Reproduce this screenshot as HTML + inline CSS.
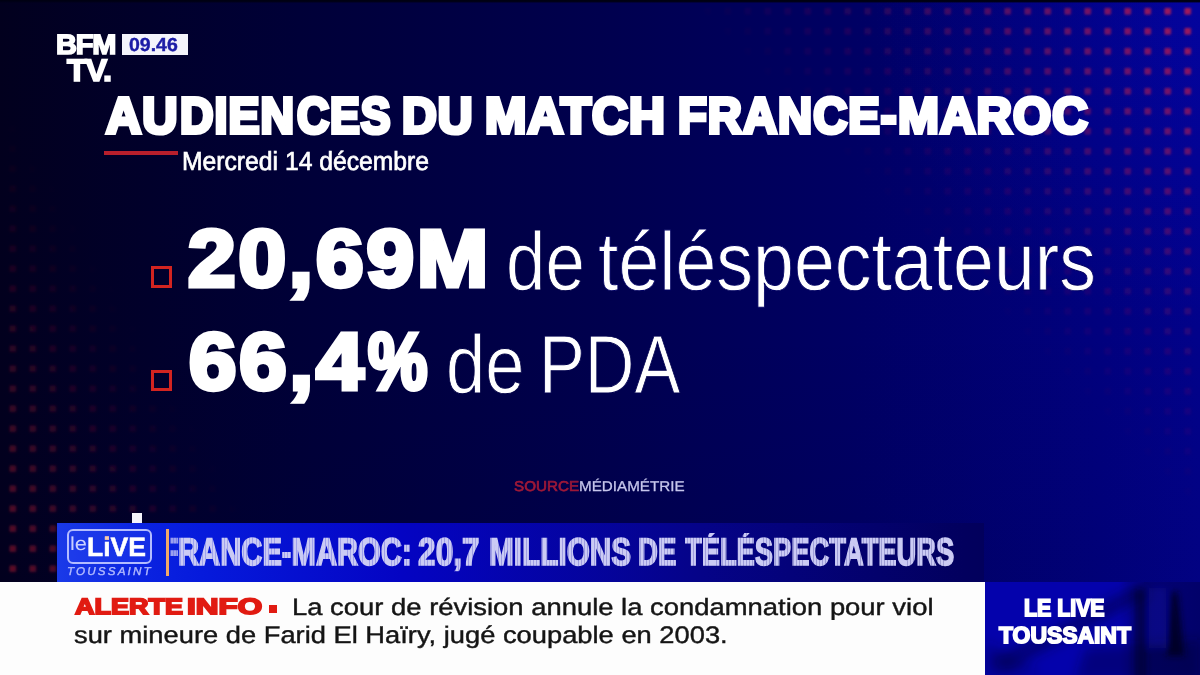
<!DOCTYPE html>
<html lang="fr">
<head>
<meta charset="utf-8">
<title>BFM TV - Audiences du match France-Maroc</title>
<style>
*{margin:0;padding:0;box-sizing:border-box}
html,body{width:1200px;height:675px;overflow:hidden;background:#00004e}
body{position:relative;font-family:"Liberation Sans",sans-serif;color:#fff;text-rendering:geometricPrecision}
.abs{position:absolute;white-space:nowrap;line-height:1;transform-origin:0 0}
#bg{position:absolute;left:0;top:0;width:1200px;height:675px;
 background:radial-gradient(ellipse 330px 330px at 1200px 0px,rgba(14,14,255,.17) 0%,rgba(14,14,255,.09) 45%,rgba(14,14,255,0) 100%),
 linear-gradient(180deg,rgba(0,0,30,0) 330px,rgba(0,0,30,.07) 560px),
 linear-gradient(90deg,rgb(2,0,30) 0px,rgb(0,0,56) 300px,rgb(0,0,78) 600px,rgb(0,0,100) 855px,rgb(1,1,126) 1100px,rgb(2,2,138) 1200px)}
#topbar{position:absolute;left:0;top:0;width:1200px;height:3px;background:linear-gradient(180deg,#000010 0,#000018 60%,rgba(0,0,24,0) 100%)}
/* logo */
.logo{font-weight:bold;color:#fff;-webkit-text-stroke:1.7px #fff;letter-spacing:-1.2px}
#timebox{position:absolute;left:122px;top:33.5px;width:65.5px;height:21px;background:#f4f4fb}
#time{color:#1c1ca6;font-weight:bold;font-size:19px;-webkit-text-stroke:.4px #1c1ca6}
/* title */
.tw{font-weight:bold;font-size:54px;-webkit-text-stroke:4.4px #fff;letter-spacing:1.2px}
#redline{position:absolute;left:104px;top:151px;width:73.5px;height:3.5px;background:#b81f2c}
#date{font-size:27px;-webkit-text-stroke:.7px #fff}
.bul{position:absolute;left:150.5px;width:21.5px;height:21.5px;border:3.2px solid #d32420}
.big{font-weight:bold;font-size:84px;-webkit-text-stroke:5px #fff;letter-spacing:3px}
.thin{font-size:78px}
#src{font-size:15px;color:#c6c6ec;-webkit-text-stroke:.3px #c6c6ec}
#src span{color:#9e1838;-webkit-text-stroke:.7px #9e1838}
/* banner */
#sq{position:absolute;left:131.5px;top:512.5px;width:10.5px;height:10px;background:#f4f4fa}
#banner{position:absolute;left:56.5px;top:522.5px;width:927.5px;height:59.5px;
 background:linear-gradient(90deg,rgb(26,58,232) 0px,rgb(10,34,224) 90px,rgb(6,26,220) 144px,rgb(4,4,195) 344px,rgb(5,3,136) 644px,rgb(2,0,94) 908px,rgb(2,0,92) 928px)}
#lbox{position:absolute;left:66.8px;top:528.8px;width:85.4px;height:35px;border:2px solid #b3bcff;border-radius:6px;background:rgba(40,70,240,.35)}
#le{color:#c9d0ff;font-size:19px}
#live{color:#fff;font-weight:bold;font-size:27px;-webkit-text-stroke:.5px #fff}
#tous{color:#b4bcff;font-style:italic;font-size:11px;letter-spacing:2px;-webkit-text-stroke:.35px #b4bcff}
#idot{position:absolute;left:104.6px;top:536.2px;width:4.4px;height:3.8px;background:rgba(240,160,110,.55)}
#oline{position:absolute;left:166px;top:529px;width:3.4px;height:46.5px;background:#f2a868}
.bt{font-weight:bold;font-size:40px;color:#cbcbf4;-webkit-text-stroke:1.7px #cbcbf4;
 -webkit-mask-image:repeating-linear-gradient(90deg,#000 0,#000 3.1px,rgba(0,0,0,.78) 3.1px,rgba(0,0,0,.78) 4.3px);
 mask-image:repeating-linear-gradient(90deg,#000 0,#000 3.1px,rgba(0,0,0,.78) 3.1px,rgba(0,0,0,.78) 4.3px)}
#white{position:absolute;left:0;top:582px;width:984.5px;height:93px;background:#fdfdfd}
.alerte{color:#e11b12;font-weight:bold;font-size:24px;-webkit-text-stroke:1.9px #e11b12}
#rsq{position:absolute;left:269px;top:604.5px;width:8.2px;height:8.2px;background:#e11b12}
.news{color:#151515;font-size:26px;-webkit-text-stroke:.45px #151515}
#rbox{position:absolute;left:984.5px;top:582px;width:215.5px;height:93px;background:rgb(4,2,172);overflow:hidden}
.rb{font-weight:bold;font-size:25px;-webkit-text-stroke:1.9px #fff}
</style>
</head>
<body>
<div id="bg"></div>
<svg id="dots" width="1200" height="675" viewBox="0 0 1200 675" style="position:absolute;left:0;top:0">
<defs>
<filter id="soft" x="0" y="0" width="100%" height="100%" filterUnits="userSpaceOnUse"><feGaussianBlur stdDeviation="1.25"/></filter>
<pattern id="pR" width="20" height="20" patternUnits="userSpaceOnUse" x="4.4" y="7.9"><rect x="0" y="0" width="6.6" height="6.8" rx="1.2" fill="rgb(228,34,62)"/></pattern>
<pattern id="pL" width="20" height="20" patternUnits="userSpaceOnUse" x="9.5" y="5.4"><rect x="0" y="0" width="6.6" height="6.6" rx="1.2" fill="rgb(205,30,48)"/></pattern>
<linearGradient id="gR" gradientUnits="userSpaceOnUse" x1="940" y1="260" x2="1200" y2="0"><stop offset="0" stop-color="#fff" stop-opacity="0"/><stop offset=".35" stop-color="#fff" stop-opacity=".16"/><stop offset=".7" stop-color="#fff" stop-opacity=".45"/><stop offset="1" stop-color="#fff" stop-opacity=".74"/></linearGradient>
<linearGradient id="gL" gradientUnits="userSpaceOnUse" x1="221" y1="471" x2="0" y2="600"><stop offset="0" stop-color="#fff" stop-opacity="0"/><stop offset=".25" stop-color="#fff" stop-opacity=".1"/><stop offset=".6" stop-color="#fff" stop-opacity=".27"/><stop offset="1" stop-color="#fff" stop-opacity=".5"/></linearGradient>
<mask id="mR" maskUnits="userSpaceOnUse" x="0" y="0" width="1200" height="675"><rect width="1200" height="675" fill="url(#gR)"/></mask>
<mask id="mL" maskUnits="userSpaceOnUse" x="0" y="0" width="1200" height="675"><rect width="1200" height="675" fill="url(#gL)"/></mask>
</defs>
<g filter="url(#soft)">
<rect x="600" y="0" width="600" height="582" fill="url(#pR)" mask="url(#mR)"/>
<rect x="0" y="100" width="400" height="480" fill="url(#pL)" mask="url(#mL)"/>
</g>
</svg>
<div id="topbar"></div>

<div id="bfm" class="abs logo" style="left:55.77px;top:31.95px;transform:scale(0.9993,0.9589);font-size:29px">BFM</div>
<div id="tv" class="abs logo" style="left:67.08px;top:54.82px;transform:scale(1.0487,1.0011);font-size:31px">TV.</div>
<div id="timebox"></div>
<div id="time" class="abs" style="left:129.36px;top:36.37px;transform:scale(1.026,0.9936)">09.46</div>

<div id="t1" class="abs tw" style="left:106.4px;top:90.82px;transform:scale(0.9022,0.9374)">AU</div>
<div id="t1b" class="abs tw" style="left:180.36px;top:90.82px;transform:scale(0.8586,0.9374)">DIEN</div>
<div id="t1c" class="abs tw" style="left:297.39px;top:90.82px;transform:scale(0.8239,0.9374)">CES</div>
<div id="t2" class="abs tw" style="left:402.44px;top:90.82px;transform:scale(0.891,0.9374)">DU</div>
<div id="t3" class="abs tw" style="left:485.22px;top:90.82px;transform:scale(0.9188,0.9374)">MATCH</div>
<div id="t4" class="abs tw" style="left:677.99px;top:90.82px;transform:scale(0.8731,0.9374)">FRANCE-</div>
<div id="t5" class="abs tw" style="left:897.56px;top:90.82px;transform:scale(0.9082,0.9374)">MAROC</div>
<div id="redline"></div>
<div id="date" class="abs" style="left:181.88px;top:149.06px;transform:scale(0.9146,0.9695)">Mercredi 14 décembre</div>

<div class="bul" style="top:266px"></div>
<div class="bul" style="top:369.5px"></div>
<div id="l1a" class="abs big" style="left:187.89px;top:218.24px;transform:scale(1.0169,0.9546)">20,69M</div>
<div id="l1b" class="abs thin" style="left:505.94px;top:219.59px;transform:scale(0.9081,1.0635);-webkit-text-stroke:.9px rgb(0,0,74)">de</div>
<div id="l1c" class="abs thin" style="left:598.32px;top:219.59px;transform:scale(0.9412,1.0635);-webkit-text-stroke:.9px rgb(0,0,98)">téléspectateurs</div>
<div id="l2a" class="abs big" style="left:188.53px;top:321px;transform:scale(1.0118,0.9543)">66,4</div>
<div id="l2p" class="abs big" style="left:367.93px;top:321px;transform:scale(0.7946,0.9543)">%</div>
<div id="l2b" class="abs thin" style="left:446.19px;top:323px;transform:scale(0.9028,1.0597);-webkit-text-stroke:.9px rgb(0,0,70)">de</div>
<div id="l2c" class="abs thin" style="left:539.45px;top:323px;transform:scale(0.8809,1.0597);-webkit-text-stroke:.9px rgb(0,0,79)">PDA</div>
<div id="src" class="abs" style="left:514.39px;top:480px;transform:scale(1.0133,0.9515)"><span>SOURCE</span>MÉDIAMÉTRIE</div>

<div id="sq"></div>
<div id="banner"></div>
<div id="lbox"></div>
<div id="le" class="abs" style="left:69.96px;top:534.84px;transform:scale(1.1492,0.9921)">le</div>
<div id="live" class="abs" style="left:86.88px;top:534.07px;transform:scale(0.9841,0.9868)">LiVE</div>
<div id="tous" class="abs" style="left:66.75px;top:567px;transform:scale(1.0618,1.0297)">TOUSSAINT</div>
<div id="idot"></div>
<div id="oline"></div>
<div id="b0" class="abs bt" style="left:160.9px;top:533.37px;transform:scale(0.7303,0.9635);clip-path:inset(0 0 0 13px);opacity:.75">F</div>
<div id="b1" class="abs bt" style="left:178.44px;top:533.37px;transform:scale(0.7303,0.9635)">RANCE-MAROC:</div>
<div id="b2" class="abs bt" style="left:417.73px;top:533.37px;transform:scale(0.7933,0.9635)">20,7</div>
<div id="b3" class="abs bt" style="left:488.67px;top:533.37px;transform:scale(0.7439,0.9635)">MILLIONS</div>
<div id="b4" class="abs bt" style="left:637.53px;top:533.37px;transform:scale(0.6886,0.9635)">DE</div>
<div id="b5" class="abs bt" style="left:685.35px;top:533.37px;transform:scale(0.6832,0.9635)">TÉLÉSPECTATEURS</div>

<div id="white"></div>
<div id="a1" class="abs alerte" style="left:74.59px;top:595.86px;transform:scale(1.1264,0.9265)">ALERTE</div>
<div id="a2" class="abs alerte" style="left:187.13px;top:595.86px;transform:scale(1.3115,0.9265)">INFO</div>
<div id="rsq"></div>
<div id="n1" class="abs news" style="left:292.01px;top:595.3px;transform:scale(1.0542,0.9079)">La cour de révision annule la condamnation pour viol</div>
<div id="n2" class="abs news" style="left:73.69px;top:622.93px;transform:scale(1.0502,0.9223)">sur mineure de Farid El Haïry, jugé coupable en 2003.</div>

<div id="rbox"><svg width="216" height="93" viewBox="984.5 582 216 93" style="position:absolute;left:0;top:0">
<defs><filter id="rb3" x="900" y="540" width="400" height="200" filterUnits="userSpaceOnUse"><feGaussianBlur stdDeviation="3.2"/></filter>
<filter id="rb6" x="900" y="540" width="400" height="200" filterUnits="userSpaceOnUse"><feGaussianBlur stdDeviation="6"/></filter>
<linearGradient id="rgd" x1="0" y1="0" x2="1" y2="0"><stop offset="0" stop-color="#000028" stop-opacity="0"/><stop offset=".62" stop-color="#000028" stop-opacity="0"/><stop offset=".74" stop-color="#000028" stop-opacity=".42"/><stop offset="1" stop-color="#000028" stop-opacity=".5"/></linearGradient></defs>
<rect x="984.5" y="582" width="216" height="93" fill="url(#rgd)"/>
<g filter="url(#rb6)">
<polygon points="1138,584 1152,594 1004,672 990,660" fill="#00002c" fill-opacity=".42"/>
<polygon points="1085,648 1200,640 1200,680 1075,680" fill="#00002c" fill-opacity=".35"/>
<polygon points="984,640 1040,672 984,680" fill="#00002c" fill-opacity=".25"/>
</g>
<g filter="url(#rb3)">
<polygon points="1171,592 1177,592 1184,656 1166,656" fill="#00001c" fill-opacity=".85"/>
<rect x="1134" y="590" width="12" height="90" fill="#000024" fill-opacity=".5"/>
<rect x="1148" y="588" width="18" height="60" fill="#1a1ad0" fill-opacity=".18"/>
</g>
</svg></div>
<div id="r1" class="abs rb" style="left:1023.85px;top:596.7px;transform:scale(0.8531,0.9599)">LE LIVE</div>
<div id="r2" class="abs rb" style="left:998.92px;top:624.38px;transform:scale(0.9159,0.93)">TOUSSAINT</div>
</body>
</html>
